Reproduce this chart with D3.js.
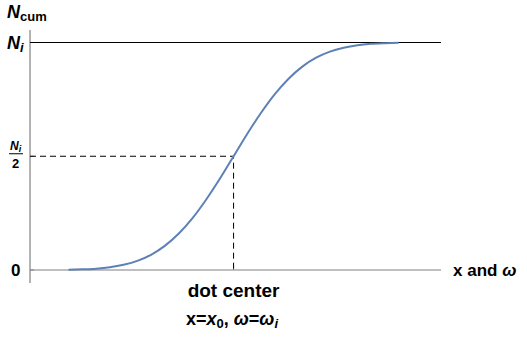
<!DOCTYPE html>
<html>
<head>
<meta charset="utf-8">
<script src="https://cdn.jsdelivr.net/npm/d3@7"></script>
<style>
  body { margin: 0; background: #fff; }
  text { font-family: "Liberation Sans", Arial, sans-serif; font-weight: bold; fill: #000; }
</style>
</head>
<body>
<div id="chart"></div>
<script>
// position along x in units of the spread, centre at 0
const xs = [-3, -2.75, -2.5, -2.25, -2, -1.75, -1.5, -1.25, -1, -0.75, -0.5, -0.25, 0,
            0.25, 0.5, 0.75, 1, 1.25, 1.5, 1.75, 2, 2.25, 2.5, 2.75, 3];
// cumulative count as a fraction of N_i
const nCum = [0.001, 0.003, 0.006, 0.012, 0.023, 0.04, 0.067, 0.106, 0.159, 0.227, 0.309, 0.401, 0.5,
              0.599, 0.691, 0.773, 0.841, 0.894, 0.933, 0.96, 0.977, 0.988, 0.994, 0.997, 0.999];
const yTicks = [0, 0.5, 1];

const width = 527, height = 337;
const svg = d3.select('#chart').append('svg')
  .attr('width', width)
  .attr('height', height);

const x = d3.scaleLinear().domain([-3.7, 3.77]).range([30, 441]);
const y = d3.scaleLinear().domain([0, 1]).range([270, 42.5]);

// axes
svg.append('line')
  .attr('x1', x(-3.7)).attr('x2', x(3.77))
  .attr('y1', y(0)).attr('y2', y(0))
  .attr('stroke', '#808080').attr('stroke-width', 1.2);
svg.append('line')
  .attr('x1', x(-3.7)).attr('x2', x(-3.7))
  .attr('y1', 30).attr('y2', 283)
  .attr('stroke', '#808080').attr('stroke-width', 1.2);

// small ticks
svg.selectAll('.ytick').data(yTicks).join('line')
  .attr('class', 'ytick')
  .attr('x1', x(-3.7)).attr('x2', x(-3.7) + 4)
  .attr('y1', d => y(d)).attr('y2', d => y(d))
  .attr('stroke', '#808080');
svg.append('line')
  .attr('x1', x(0)).attr('x2', x(0))
  .attr('y1', y(0)).attr('y2', y(0) - 4)
  .attr('stroke', '#808080');

// N_i level
svg.append('line')
  .attr('x1', x(-3.7)).attr('x2', x(3.77))
  .attr('y1', y(1)).attr('y2', y(1))
  .attr('stroke', '#000').attr('stroke-width', 1);

// dashed guides to the centre point
svg.append('path')
  .attr('d', `M${x(-3.7)},${y(0.5)}H${x(0)}V${y(0)}`)
  .attr('fill', 'none')
  .attr('stroke', '#000')
  .attr('stroke-width', 1)
  .attr('stroke-dasharray', '6,4');

// the curve
const line = d3.line()
  .x((d, i) => x(xs[i]))
  .y(d => y(d))
  .curve(d3.curveMonotoneX);
svg.append('path')
  .datum(nCum)
  .attr('d', line)
  .attr('fill', 'none')
  .attr('stroke', '#5e81b5')
  .attr('stroke-width', 2);

// labels
const nc = svg.append('text').attr('x', 7).attr('y', 18).style('font-size', '18px');
nc.append('tspan').style('font-style', 'italic').text('N');
nc.append('tspan').attr('dy', 3).style('font-size', '13px').text('cum');

const ni = svg.append('text').attr('x', 7).attr('y', y(1) + 6).style('font-size', '18px');
ni.append('tspan').style('font-style', 'italic').text('N');
ni.append('tspan').attr('dy', 3).style('font-size', '13px').style('font-style', 'italic').text('i');

const half = svg.append('text').attr('x', 10).attr('y', y(0.5) - 6).style('font-size', '12px');
half.append('tspan').style('font-style', 'italic').text('N');
half.append('tspan').attr('dy', 2).style('font-size', '9px').style('font-style', 'italic').text('i');
svg.append('line')
  .attr('x1', 9).attr('x2', 23)
  .attr('y1', y(0.5) - 2.5).attr('y2', y(0.5) - 2.5)
  .attr('stroke', '#000').attr('stroke-width', 1);
svg.append('text').attr('x', 12).attr('y', y(0.5) + 12).style('font-size', '13px').text('2');

svg.append('text').attr('x', 11).attr('y', y(0) + 6).style('font-size', '17px').text('0');

svg.append('text')
  .attr('x', x(0)).attr('y', 297)
  .attr('text-anchor', 'middle')
  .style('font-size', '19px')
  .text('dot center');

const sub = svg.append('text').attr('x', 186).attr('y', 325).style('font-size', '18px');
sub.append('tspan').text('x=');
sub.append('tspan').style('font-style', 'italic').text('x');
sub.append('tspan').attr('dy', 3).style('font-size', '13px').text('0');
sub.append('tspan').attr('dy', -3).text(', ');
sub.append('tspan').style('font-style', 'italic').text('ω');
sub.append('tspan').text('=');
sub.append('tspan').style('font-style', 'italic').text('ω');
sub.append('tspan').attr('dy', 3).style('font-size', '13px').style('font-style', 'italic').text('i');

const xl = svg.append('text').attr('x', 453).attr('y', y(0) + 6).style('font-size', '17px');
xl.append('tspan').text('x and ');
xl.append('tspan').style('font-style', 'italic').text('ω');
</script>
</body>
</html>
